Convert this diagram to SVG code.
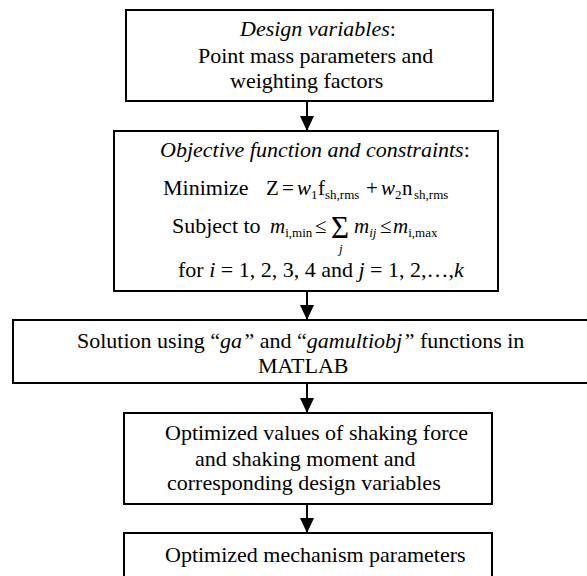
<svg xmlns="http://www.w3.org/2000/svg" width="587" height="576" viewBox="0 0 587 576">
<style>
  .box{fill:#fff;stroke:#000;stroke-width:2}
  .t{font-family:"Liberation Serif","Times New Roman",serif;font-size:22px;fill:#000}
  .m{font-size:21px}
  .big{font-size:31px}
  .i{font-style:italic}
  .sub{font-size:13px}
  .conn{stroke:#000;stroke-width:2;fill:none}
</style>
<defs>
  <marker id="ah" markerUnits="userSpaceOnUse" markerWidth="15" markerHeight="14" refX="15" refY="7" orient="auto">
    <path d="M0,0 L15,7 L0,14 z" fill="#000"/>
  </marker>
</defs>
<rect width="587" height="576" fill="#fff"/>
<g id="connectors">
  <line class="conn" x1="307" y1="101" x2="307" y2="131" marker-end="url(#ah)"/>
  <line class="conn" x1="307" y1="291" x2="307" y2="320" marker-end="url(#ah)"/>
  <line class="conn" x1="307" y1="383" x2="307" y2="413" marker-end="url(#ah)"/>
  <line class="conn" x1="307" y1="504" x2="307" y2="533" marker-end="url(#ah)"/>
</g>
<g id="design-variables">
  <rect class="box" x="126" y="10" width="367" height="91"/>
  <text class="t" x="240" y="36"><tspan class="i">Design variables</tspan>:</text>
  <text class="t" x="198" y="63">Point mass parameters and</text>
  <text class="t" x="230" y="88">weighting factors</text>
</g>
<g id="objective">
  <rect class="box" x="114" y="131" width="384" height="160"/>
  <text class="t" x="160" y="157"><tspan class="i">Objective function and constraints</tspan>:</text>
  <text class="t" x="163" y="195">Minimize</text>
  <text class="t m" y="195"><tspan x="266">Z</tspan><tspan x="282">=</tspan><tspan x="297" class="i">w</tspan><tspan class="sub" dy="4">1</tspan><tspan dy="-4" x="318">f</tspan><tspan class="sub" dy="4" x="325">sh,rms</tspan><tspan dy="-4" x="366">+</tspan><tspan x="381" class="i">w</tspan><tspan class="sub" dy="4">2</tspan><tspan dy="-4" x="402">n</tspan><tspan class="sub" dy="4" x="414">sh,rms</tspan></text>
  <text class="t" x="172" y="233">Subject to</text>
  <text class="t m" y="233"><tspan x="270" class="i">m</tspan><tspan class="sub" dy="4">i,min</tspan><tspan dy="-4" x="315">≤</tspan></text>
  <text class="t big" x="331" y="238">Σ</text>
  <text class="t i sub" x="339" y="253">j</text>
  <text class="t m" y="233"><tspan x="354" class="i">m</tspan><tspan class="sub i" dy="4">ij</tspan><tspan dy="-4" x="380">≤</tspan><tspan x="393" class="i">m</tspan><tspan class="sub" dy="4">i,max</tspan></text>
  <text class="t" y="277"><tspan x="178">for </tspan><tspan class="i">i</tspan><tspan> = 1, 2, 3, 4 and </tspan><tspan class="i">j</tspan><tspan> = 1, 2,…,</tspan><tspan class="i">k</tspan></text>
</g>
<g id="solution">
  <rect class="box" x="13" y="320" width="588" height="63"/>
  <text class="t" x="77" y="348">Solution using “<tspan class="i">ga”</tspan> and “<tspan class="i">gamultiobj”</tspan> functions in</text>
  <text class="t" x="258" y="373">MATLAB</text>
</g>
<g id="optimized-values">
  <rect class="box" x="124" y="413" width="368" height="91"/>
  <text class="t" x="165" y="440">Optimized values of shaking force</text>
  <text class="t" x="195" y="466">and shaking moment and</text>
  <text class="t" x="167" y="490">corresponding design variables</text>
</g>
<g id="mechanism-parameters">
  <rect class="box" x="124" y="533" width="368" height="60"/>
  <text class="t" x="165" y="562">Optimized mechanism parameters</text>
</g>
</svg>
